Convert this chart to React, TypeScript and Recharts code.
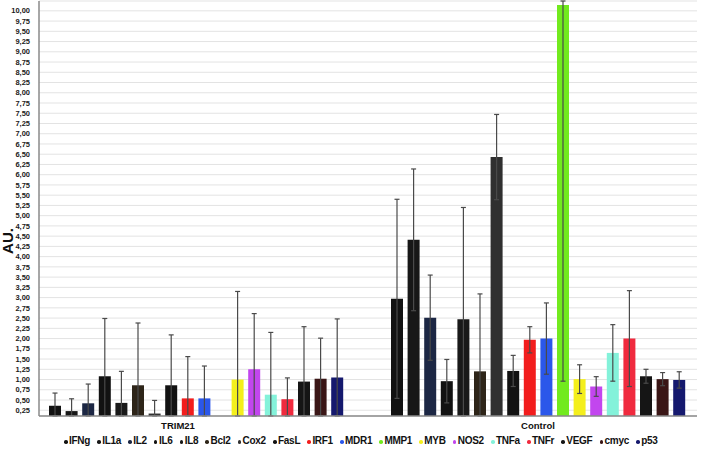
import React from "react";
import { BarChart, Bar, ErrorBar, XAxis, YAxis, CartesianGrid } from "recharts";

const categories = ["TRIM21", "Control"];

const genes = [
  "IFNg", "IL1a", "IL2", "IL6", "IL8", "Bcl2", "Cox2", "FasL", "IRF1",
  "MDR1", "MMP1", "MYB", "NOS2", "TNFa", "TNFr", "VEGF", "cmyc", "p53",
];

const colors = [
  "#121212", "#171717", "#1c2744", "#121212", "#191919", "#2e2519", "#303030", "#121212", "#f21d1d",
  "#2b57ea", "#72ea1e", "#f4ef1c", "#c246ee", "#84f2da", "#f02a3e", "#151515", "#3a1616", "#15196e",
];

const trim21Values = [0.36, 0.23, 0.42, 1.08, 0.43, 0.86, 0.17, 0.86, 0.54, 0.54, 0.11, 1.0, 1.25, 0.63, 0.52, 0.95, 1.02, 1.05];
const trim21Errors = [0.31, 0.3, 0.47, 1.41, 0.77, 1.52, 0.32, 1.23, 1.02, 0.79, 0.3, 2.15, 1.36, 1.52, 0.52, 1.34, 0.99, 1.43];

const controlValues = [2.97, 4.41, 2.51, 0.96, 2.47, 1.2, 6.43, 1.21, 1.97, 2.0, 10.14, 1.01, 0.83, 1.65, 2.0, 1.08, 1.01, 0.99];
const controlErrors = [2.43, 1.73, 1.04, 0.53, 2.73, 1.89, 1.04, 0.38, 0.32, 0.87, 9.18, 0.35, 0.24, 0.69, 1.17, 0.17, 0.16, 0.2];

const yTicks = [
  0.25, 0.5, 0.75, 1.0, 1.25, 1.5, 1.75, 2.0, 2.25, 2.5, 2.75, 3.0, 3.25, 3.5, 3.75, 4.0, 4.25, 4.5, 4.75, 5.0,
  5.25, 5.5, 5.75, 6.0, 6.25, 6.5, 6.75, 7.0, 7.25, 7.5, 7.75, 8.0, 8.25, 8.5, 8.75, 9.0, 9.25, 9.5, 9.75, 10.0,
];

const yMin = 0.11;
const yMax = 10.24;

// error bars are symmetric, but cut off where they leave the plot
const rows = categories.map((name, ci) => {
  const row: Record<string, any> = { name };
  genes.forEach((g, gi) => {
    const v = ci === 0 ? trim21Values[gi] : controlValues[gi];
    const e = ci === 0 ? trim21Errors[gi] : controlErrors[gi];
    row[g] = v;
    row[g + "_err"] = [Math.max(0, Math.min(e, v - yMin)), Math.min(e, yMax - v)];
  });
  return row;
});

const font = "'Liberation Sans', Arial, sans-serif";

// TRIM21 label sits a bit left of its bar group in the original
const CategoryTick = (props: any) => {
  const { x, y, payload } = props;
  const shift = payload.value === "TRIM21" ? -18 : 0;
  return (
    <text x={x + shift} y={y + 5} textAnchor="middle" fontFamily={font} fontWeight="bold" fontSize={9.5} fill="#111">
      {payload.value}
    </text>
  );
};

const AuLabel = () => (
  <text x={13} y={241} transform="rotate(-90 13 241)" textAnchor="middle" fontFamily={font} fontWeight="bold" fontSize={15} fill="#111">
    AU.
  </text>
);

export default function App() {
  return (
    <div style={{ position: "absolute", left: 0, top: 0, width: 708, height: 452, background: "#fff" }}>
      <BarChart width={708} height={452} data={rows} margin={{ top: 1, right: 11, bottom: 0, left: 0 }} barGap={4.6}>
        <CartesianGrid vertical={false} stroke="#e3e3e3" strokeWidth={1} />
        <XAxis
          dataKey="name"
          height={36}
          padding={{ left: -14, right: -12 }}
          axisLine={{ stroke: "#8a8a8a", strokeWidth: 1.5 }}
          tickLine={false}
          tick={<CategoryTick />}
        />
        <XAxis xAxisId="top" orientation="top" dataKey="name" height={0} tick={false} tickLine={false} axisLine={{ stroke: "#a0a0a0" }} />
        <YAxis
          width={39}
          domain={[yMin, yMax]}
          allowDataOverflow
          ticks={yTicks}
          interval={0}
          tickLine={false}
          axisLine={{ stroke: "#8a8a8a", strokeWidth: 1.5 }}
          tickFormatter={(v: number) => v.toFixed(2).replace(".", ",")}
          tick={{ fontFamily: font, fontWeight: "bold", fontSize: 7.5, fill: "#1a1a1a" }}
          tickMargin={3}
          label={AuLabel}
        />
        <YAxis yAxisId="right" orientation="right" width={0} domain={[yMin, yMax]} tick={false} tickLine={false} axisLine={{ stroke: "#a0a0a0" }} />
        {genes.map((g, i) => (
          <Bar key={g} dataKey={g} fill={colors[i]} barSize={12} isAnimationActive={false}>
            <ErrorBar dataKey={g + "_err"} direction="y" width={2.5} stroke="#4a4a4a" strokeWidth={1.2} />
          </Bar>
        ))}
      </BarChart>
      <div
        style={{
          position: "absolute",
          left: 64,
          top: 435,
          display: "flex",
          gap: 7.2,
          fontFamily: font,
          fontWeight: "bold",
          fontSize: 10,
          letterSpacing: -0.3,
          color: "#111",
          whiteSpace: "nowrap",
        }}
      >
        {genes.map((g, i) => (
          <span key={g} style={{ display: "flex", alignItems: "center" }}>
            <span style={{ width: 3.5, height: 3.5, borderRadius: "50%", background: colors[i], marginRight: 1.5, marginTop: 3 }} />
            {g}
          </span>
        ))}
      </div>
    </div>
  );
}
